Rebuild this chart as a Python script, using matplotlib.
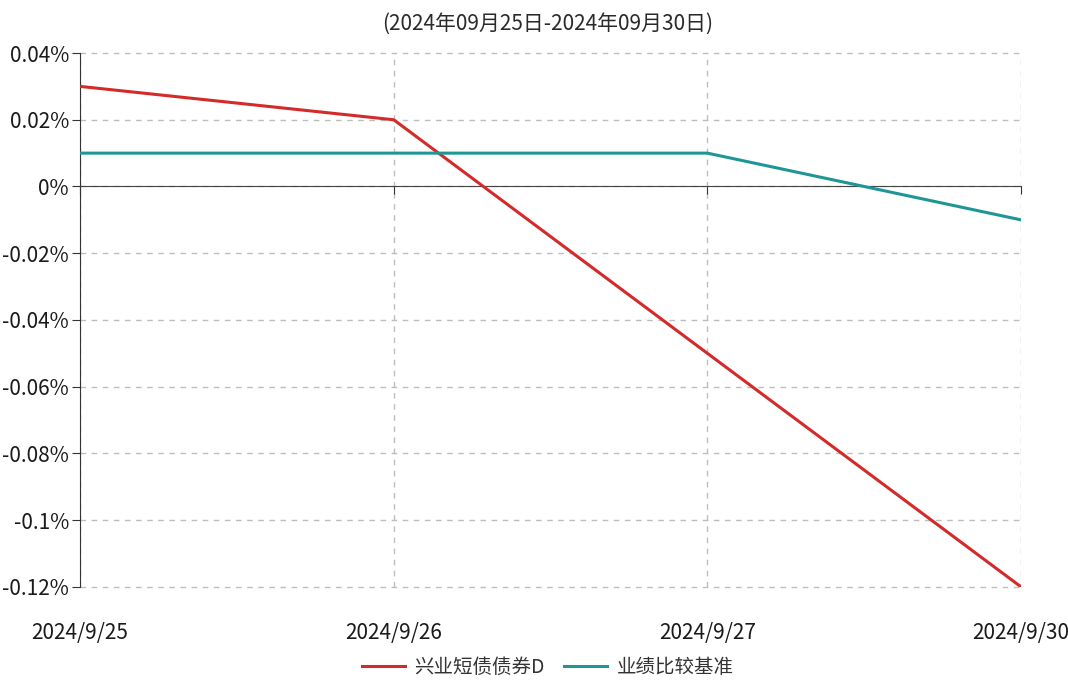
import matplotlib

matplotlib.use("Agg")

import matplotlib.pyplot as plt
import matplotlib.transforms as mtransforms
from matplotlib.ticker import FuncFormatter, MultipleLocator

plt.rcParams["font.family"] = ["Liberation Sans Narrow", "Noto Sans CJK SC", "DejaVu Sans"]

DATES = ["2024/9/25", "2024/9/26", "2024/9/27", "2024/9/30"]
FUND = [0.03, 0.02, -0.05, -0.12]
BENCH = [0.01, 0.01, 0.01, -0.01]
TITLE = "(2024年09月25日-2024年09月30日)"
FUND_NAME = "兴业短债债券D"
BENCH_NAME = "业绩比较基准"

RED = "#d42a2a"
TEAL = "#1f9696"
GRID = "#bdbdbd"
AXIS = "#333333"


def _pct(v, _pos):
    return f"{v:g}%" if abs(v) > 1e-9 else "0%"


fig = plt.figure(figsize=(10.68, 6.8), dpi=100)
ax = fig.add_axes([0.075, 0.137, 0.881, 0.785])

x = list(range(len(DATES)))
ax.plot(x, FUND, color=RED, linewidth=2.2, label=FUND_NAME, zorder=3)
ax.plot(x, BENCH, color=TEAL, linewidth=2.2, label=BENCH_NAME, zorder=3)

ax.set_xlim(0, len(DATES) - 1)
ax.set_ylim(-0.12, 0.04)
ax.yaxis.set_major_locator(MultipleLocator(0.02))
ax.yaxis.set_major_formatter(FuncFormatter(_pct))

ax.grid(True, linestyle=(0, (4, 4)), color=GRID, linewidth=1)
ax.set_axisbelow(True)
for gl in ax.get_xgridlines() + ax.get_ygridlines():
    gl.set_clip_on(False)

for side in ("top", "right"):
    ax.spines[side].set_visible(False)
ax.spines["left"].set_color(AXIS)
ax.spines["bottom"].set_position(("data", 0))
ax.spines["bottom"].set_color("#444444")
ax.spines["bottom"].set_linestyle((0, (5, 1)))

ax.set_xticks(x)
ax.set_xticklabels([])
ax.tick_params(axis="x", direction="out", length=6, color=AXIS)
ax.tick_params(axis="y", direction="out", length=6, color=AXIS, labelsize=15, labelcolor="#1a1a1a", pad=2)

trans = mtransforms.blended_transform_factory(ax.transData, ax.transAxes)
for xi, lab in zip(x, DATES):
    ax.text(xi, -0.065, lab, transform=trans, ha="center", va="top", fontsize=15, color="#1a1a1a")

fig.text(0.513, 0.965, TITLE, ha="center", va="center", fontsize=15, color="#2a2a2a")

fig.legend(loc="center", bbox_to_anchor=(0.513, 0.018), ncol=2, frameon=False,
           fontsize=14, handlelength=2.2, columnspacing=1.0, handletextpad=0.5,
           labelcolor="#333333")

fig.savefig("out.png", dpi=100, facecolor="white")
